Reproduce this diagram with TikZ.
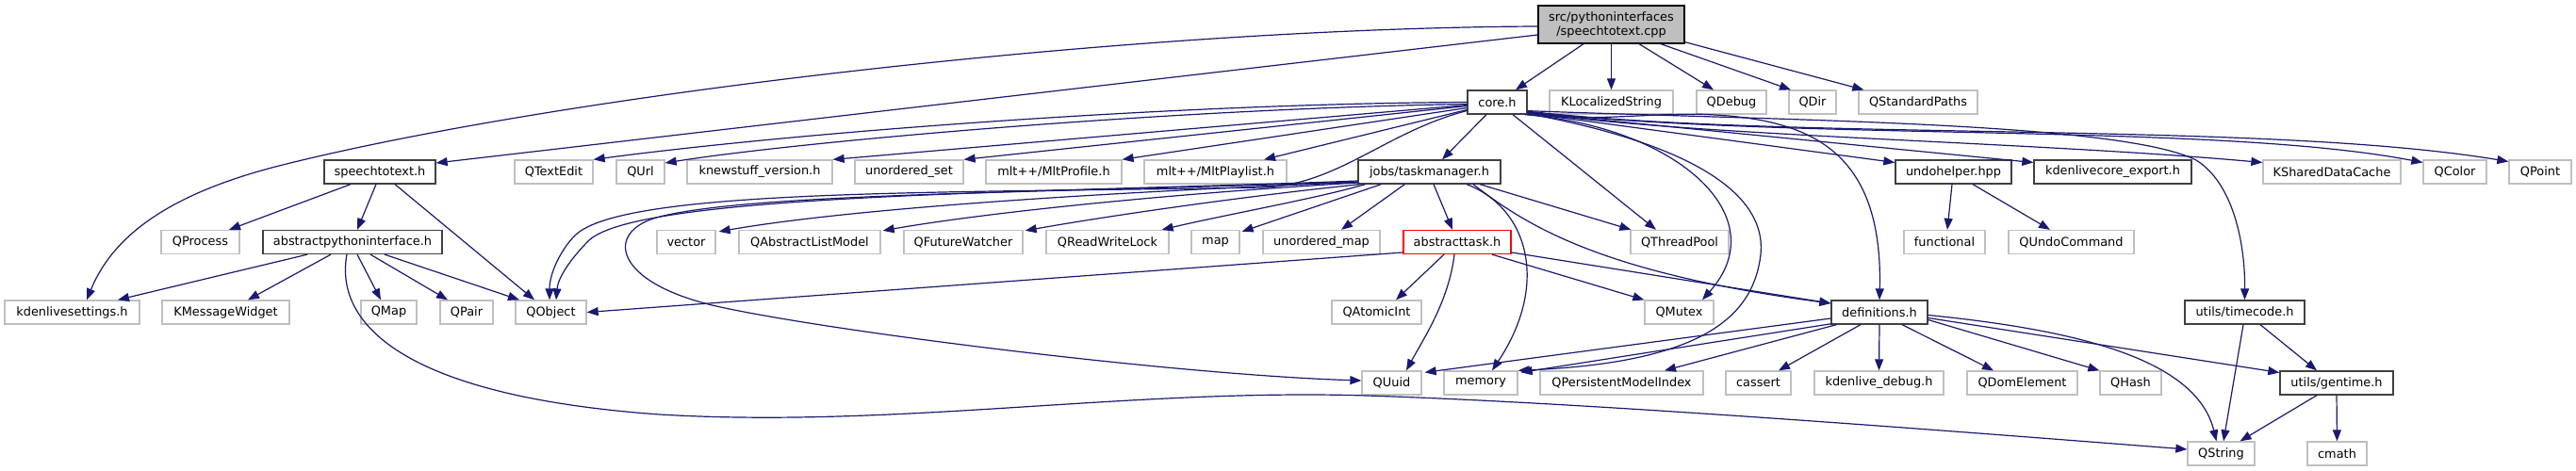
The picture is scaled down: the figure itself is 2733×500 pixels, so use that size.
\documentclass[tikz,border=0pt]{standalone}
\usepackage{fontspec}
\setmainfont{DejaVu Sans}
\usetikzlibrary{arrows.meta}
\definecolor{edgeblue}{HTML}{191970}
\definecolor{extgray}{HTML}{BFBFBF}
\definecolor{docgray}{HTML}{404040}
\newcommand\nodefont{\fontsize{12.9pt}{15pt}\selectfont}
\begin{document}
\begin{tikzpicture}[x=1pt,y=-1pt,
  box/.style={rectangle, minimum height=25pt, inner sep=0pt, line width=1.3pt, fill=white, font=\nodefont},
  ext/.style={box, draw=extgray},
  doc/.style={box, draw=docgray},
  trunc/.style={box, draw=red},
  rootbox/.style={box, draw=black, fill=extgray, align=center, minimum height=40pt},
  edge/.style={draw=edgeblue, line width=1.2pt, -{Triangle[length=12pt,width=9pt]}}]
\fill[white] (0,0) rectangle (2733,500);
\useasboundingbox (0,0) rectangle (2733,500);
% row 0
\node[rootbox, minimum width=155pt] (R) at (1709.5,26) {src/pythoninterfaces\\/speechtotext.cpp};
% row 1
\node[doc, minimum width=63pt] (C) at (1588.5,108.5) {core.h};
\node[ext, minimum width=131pt] (kloc) at (1709.5,108.5) {KLocalizedString};
\node[ext, minimum width=74pt] (qdebug) at (1837,108.5) {QDebug};
\node[ext, minimum width=50pt] (qdir) at (1923,108.5) {QDir};
\node[ext, minimum width=126pt] (qstd) at (2035,108.5) {QStandardPaths};
% row 2
\node[doc, minimum width=118pt] (sth) at (403,182.5) {speechtotext.h};
\node[ext, minimum width=83pt] (qtextedit) at (587.5,182.5) {QTextEdit};
\node[ext, minimum width=51pt] (qurl) at (679.5,182.5) {QUrl};
\node[ext, minimum width=154pt] (knew) at (806,182.5) {knewstuff\_version.h};
\node[ext, minimum width=115pt] (uset) at (964.5,182.5) {unordered\_set};
\node[ext, minimum width=144pt] (mltprof) at (1118,182.5) {mlt++/MltProfile.h};
\node[ext, minimum width=151pt] (mltpl) at (1289.5,182.5) {mlt++/MltPlaylist.h};
\node[doc, minimum width=151pt] (tm) at (1516.5,182.5) {jobs/taskmanager.h};
\node[doc, minimum width=123pt] (undo) at (2072.5,182.5) {undohelper.hpp};
\node[doc, minimum width=167pt] (kexp) at (2241.5,182.5) {kdenlivecore\_export.h};
\node[ext, minimum width=146pt] (kshared) at (2474,182.5) {KSharedDataCache};
\node[ext, minimum width=67pt] (qcolor) at (2604.5,182.5) {QColor};
\node[ext, minimum width=66pt] (qpoint) at (2695,182.5) {QPoint};
% row 3
\node[ext, minimum width=83pt] (qprocess) at (212.5,257) {QProcess};
\node[doc, minimum width=190pt] (api) at (374,257) {abstractpythoninterface.h};
\node[ext, minimum width=62pt] (vector) at (728,257) {vector};
\node[ext, minimum width=150pt] (qalm) at (859,257) {QAbstractListModel};
\node[ext, minimum width=126pt] (qfw) at (1022,257) {QFutureWatcher};
\node[ext, minimum width=130pt] (qrwl) at (1175,257) {QReadWriteLock};
\node[ext, minimum width=51pt] (map) at (1289.5,257) {map};
\node[ext, minimum width=124pt] (umap) at (1402,257) {unordered\_map};
\node[trunc, minimum width=114pt] (atask) at (1546,257) {abstracttask.h};
\node[ext, minimum width=104pt] (qtp) at (1782,257) {QThreadPool};
\node[ext, minimum width=86pt] (functional) at (2063,257) {functional};
\node[ext, minimum width=133pt] (qundo) at (2197.5,257) {QUndoCommand};
% row 4
\node[ext, minimum width=143pt] (kset) at (76.5,331.5) {kdenlivesettings.h};
\node[ext, minimum width=135pt] (kmsg) at (239.5,331.5) {KMessageWidget};
\node[ext, minimum width=59pt] (qmap) at (412.5,331.5) {QMap};
\node[ext, minimum width=56pt] (qpair) at (495,331.5) {QPair};
\node[ext, minimum width=75pt] (qobject) at (584.5,331.5) {QObject};
\node[ext, minimum width=95pt] (qatomic) at (1460.5,331.5) {QAtomicInt};
\node[ext, minimum width=73pt] (qmutex) at (1781.5,331.5) {QMutex};
\node[doc, minimum width=102pt] (defs) at (1994,331.5) {definitions.h};
\node[doc, minimum width=127pt] (timecode) at (2381.5,331.5) {utils/timecode.h};
% row 5
\node[ext, minimum width=63pt] (quuid) at (1476.5,406.5) {QUuid};
\node[ext, minimum width=78pt] (memory) at (1571,406.5) {memory};
\node[ext, minimum width=173pt] (qpmi) at (1720.5,406.5) {QPersistentModelIndex};
\node[ext, minimum width=69pt] (cassert) at (1865.5,406.5) {cassert};
\node[ext, minimum width=137pt] (kdebug) at (1993.5,406.5) {kdenlive\_debug.h};
\node[ext, minimum width=117pt] (qdom) at (2145.5,406.5) {QDomElement};
\node[ext, minimum width=65pt] (qhash) at (2260.5,406.5) {QHash};
\node[doc, minimum width=120pt] (gentime) at (2479,406.5) {utils/gentime.h};
% row 6
\node[ext, minimum width=71pt] (qstring) at (2356.5,481.5) {QString};
\node[ext, minimum width=63pt] (cmath) at (2479.5,481.5) {cmath};

% root edges
\draw[edge] ([shift={(-29.5,0)}]R.south) -- ([shift={(19.5,0)}]C.north);
\draw[edge] (R.south) -- (kloc.north);
\draw[edge] ([shift={(29.5,0)}]R.south) -- ([shift={(-19,0)}]qdebug.north);
\draw[edge] ([shift={(52.5,0)}]R.south) -- ([shift={(-23,0)}]qdir.north);
\draw[edge] ([shift={(0,-2)}]R.south east) -- ([shift={(6,0)}]qstd.north west);
\draw[edge] ([shift={(0,11)}]R.west) -- ([shift={(0,-9.5)}]sth.east);
\draw[edge] ([shift={(0,2)}]R.west) .. controls (1200,30) and (600,100) .. (300,175) .. controls (180,205) and (120,250) .. ([shift={(15.5,0)}]kset.north);

% speechtotext.h
\draw[edge] ([shift={(-31,0)}]sth.south) -- ([shift={(30.5,0)}]qprocess.north);
\draw[edge] ([shift={(-4,0)}]sth.south) -- ([shift={(5,0)}]api.north);
\draw[edge] ([shift={(16,0)}]sth.south) -- ([shift={(-17.5,0)}]qobject.north);

% abstractpythoninterface.h
\draw[edge] ([shift={(-48,0)}]api.south) -- ([shift={(48.5,0)}]kset.north);
\draw[edge] ([shift={(-23,0)}]api.south) -- ([shift={(23.5,0)}]kmsg.north);
\draw[edge] ([shift={(5,0)}]api.south) -- ([shift={(-8.5,0)}]qmap.north);
\draw[edge] ([shift={(19,0)}]api.south) -- ([shift={(-20,0)}]qpair.north);
\draw[edge] ([shift={(34,0)}]api.south) -- ([shift={(-33.5,0)}]qobject.north);
\draw[edge] ([shift={(-6,0)}]api.south) .. controls (355,340) and (420,420) .. (700,440) .. controls (950,455) and (1200,412) .. (1450,420) .. controls (1700,428) and (2100,460) .. ([shift={(0,-4.5)}]qstring.west);

% core.h left
\draw[edge] (C.west) .. controls (1250,110) and (850,140) .. (qtextedit.north east);
\draw[edge] ([shift={(0,2)}]C.west) .. controls (1250,115) and (850,150) .. ([shift={(0,-9.5)}]qurl.east);
\draw[edge] ([shift={(0,3)}]C.west) -- (knew.north east);
\draw[edge] ([shift={(0,4)}]C.west) -- (uset.north east);
\draw[edge] ([shift={(0,6)}]C.west) -- (mltprof.north east);
\draw[edge] ([shift={(0,8)}]C.west) -- ([shift={(51.5,0)}]mltpl.north);
\draw[edge] ([shift={(0,9)}]C.west) .. controls (1470,140) and (1420,196) .. (1340,199) .. controls (1000,205) and (660,200) .. (610,250) .. controls (595,265) and (583,290) .. ([shift={(-1.5,0)}]qobject.north);
% core.h down / right
\draw[edge] ([shift={(-11.5,0)}]C.south) -- ([shift={(13.5,0)}]tm.north);
\draw[edge] ([shift={(16.5,0)}]C.south) -- ([shift={(-25,0)}]qtp.north);
\draw[edge] ([shift={(-3,0)}]C.south east) .. controls (1780,135) and (1885,230) .. ([shift={(24.5,0)}]qmutex.north);
\draw[edge] ([shift={(0,-1)}]C.south east) .. controls (1780,150) and (1875,200) .. (1868,270) .. controls (1860,340) and (1800,385) .. (memory.north east);
\draw[edge] (C.south east) .. controls (1700,130) and (1760,118) .. (1820,122) .. controls (1920,128) and (1998,160) .. (defs.north);
\draw[edge] ([shift={(0,-1.5)}]C.south east) -- ([shift={(0,-10)}]undo.west);
\draw[edge] ([shift={(0,-2)}]C.south east) -- ([shift={(0,-10)}]kexp.west);
\draw[edge] ([shift={(0,-2.5)}]C.south east) .. controls (1800,145) and (2150,150) .. ([shift={(0,-10)}]kshared.west);
\draw[edge] ([shift={(0,-3)}]C.south east) .. controls (1900,150) and (2350,130) .. ([shift={(0,-10)}]qcolor.west);
\draw[edge] ([shift={(0,-3.5)}]C.south east) .. controls (1900,150) and (2400,128) .. ([shift={(0,-11)}]qpoint.west);
\draw[edge] ([shift={(0,-4)}]C.south east) .. controls (1900,128) and (2250,130) .. (2330,170) .. controls (2370,195) and (2382,260) .. (timecode.north);

% jobs/taskmanager.h
\draw[edge] ([shift={(0,9.5)}]tm.west) .. controls (1100,205) and (680,205) .. (625,255) .. controls (605,275) and (592,295) .. ([shift={(5.5,0)}]qobject.north);
\draw[edge] ([shift={(0,10.5)}]tm.west) .. controls (1100,205) and (800,205) .. (700,230) .. controls (640,245) and (650,300) .. (760,325) .. controls (880,352) and (1250,398) .. ([shift={(0,-2.5)}]quuid.west);
\draw[edge] ([shift={(0,11)}]tm.west) .. controls (1150,205) and (900,222) .. ([shift={(3,2)}]vector.north east);
\draw[edge] ([shift={(0,11.5)}]tm.west) .. controls (1250,205) and (1050,225) .. ([shift={(2,1)}]qalm.north east);
\draw[edge] ([shift={(3,0)}]tm.south west) .. controls (1350,205) and (1200,225) .. ([shift={(2,1)}]qfw.north east);
\draw[edge] ([shift={(8,0)}]tm.south west) .. controls (1400,210) and (1300,228) .. ([shift={(-8,0)}]qrwl.north east);
\draw[edge] ([shift={(25,0)}]tm.south west) -- ([shift={(2,2)}]map.north east);
\draw[edge] ([shift={(50,0)}]tm.south west) -- ([shift={(21,0)}]umap.north);
\draw[edge] ([shift={(4.5,0)}]tm.south) -- ([shift={(-5,0)}]atask.north);
\draw[edge] ([shift={(39.5,0)}]tm.south) .. controls (1620,220) and (1645,300) .. ([shift={(12,0)}]memory.north);
\draw[edge] ([shift={(46.5,0)}]tm.south) .. controls (1620,240) and (1700,290) .. ([shift={(0,-9.5)}]defs.west);
\draw[edge] ([shift={(53.5,0)}]tm.south) -- ([shift={(1,0)}]qtp.north west);

% abstracttask.h
\draw[edge] ([shift={(0,11)}]atask.west) -- (qobject.east);
\draw[edge] ([shift={(-14,0)}]atask.south) -- ([shift={(20.5,0)}]qatomic.north);
\draw[edge] ([shift={(-3,0)}]atask.south) .. controls (1537,320) and (1510,360) .. ([shift={(15.5,0)}]quuid.north);
\draw[edge] ([shift={(37,0)}]atask.south) -- (qmutex.north west);
\draw[edge] ([shift={(0,11)}]atask.east) -- ([shift={(0,-9.5)}]defs.west);

% undohelper.hpp
\draw[edge] ([shift={(-1.5,0)}]undo.south) -- ([shift={(3,0)}]functional.north);
\draw[edge] ([shift={(20.5,0)}]undo.south) -- ([shift={(-22.5,0)}]qundo.north);

% definitions.h
\draw[edge] ([shift={(0,6.5)}]defs.west) -- ([shift={(3,2)}]quuid.north east);
\draw[edge] ([shift={(1,-1)}]defs.south west) -- ([shift={(3,2)}]memory.north east);
\draw[edge] ([shift={(6,0)}]defs.south west) -- ([shift={(45.5,0)}]qpmi.north);
\draw[edge] ([shift={(-20,0)}]defs.south) -- ([shift={(21.5,0)}]cassert.north);
\draw[edge] (defs.south) -- (kdebug.north);
\draw[edge] ([shift={(24,0)}]defs.south) -- ([shift={(-30.5,0)}]qdom.north);
\draw[edge] ([shift={(0,8)}]defs.east) -- (qhash.north west);
\draw[edge] ([shift={(0,3)}]defs.east) .. controls (2200,350) and (2330,380) .. ([shift={(-5,0)}]qstring.north);
\draw[edge] ([shift={(0,6)}]defs.east) -- ([shift={(0,-11)}]gentime.west);

% utils/timecode.h
\draw[edge] ([shift={(-1.5,0)}]timecode.south) -- ([shift={(2.5,0)}]qstring.north);
\draw[edge] ([shift={(16.5,0)}]timecode.south) -- ([shift={(-21,0)}]gentime.north);

% utils/gentime.h
\draw[edge] ([shift={(-21,0)}]gentime.south) -- ([shift={(20,0)}]qstring.north);
\draw[edge] (gentime.south) -- (cmath.north);
\end{tikzpicture}
\end{document}
